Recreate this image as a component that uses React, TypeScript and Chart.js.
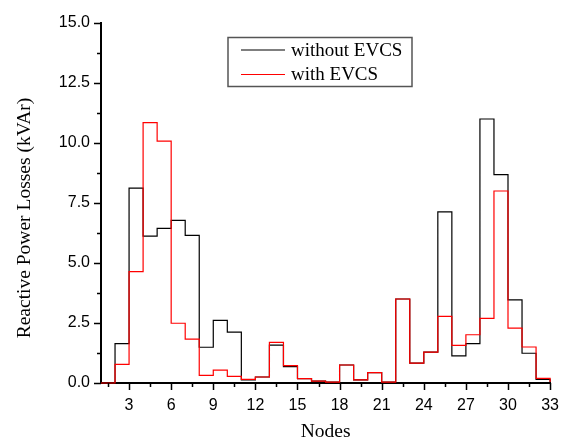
import React, { useEffect, useRef } from "react";
import { Chart, registerables } from "chart.js";

Chart.register(...registerables);

// Bus numbers of the 33-node feeder
const nodes = [
  1, 2, 3, 4, 5, 6, 7, 8, 9, 10, 11, 12, 13, 14, 15, 16, 17,
  18, 19, 20, 21, 22, 23, 24, 25, 26, 27, 28, 29, 30, 31, 32, 33,
];

// Reactive power losses per node (kVAr)
const withoutEVCS = [
  0, 1.64, 8.12, 6.12, 6.44, 6.78, 6.15, 1.49, 2.61, 2.12, 0.13, 0.25, 1.58,
  0.68, 0.18, 0.08, 0.04, 0.75, 0.13, 0.43, 0.04, 3.5, 0.83, 1.29, 7.13, 1.13,
  1.64, 11.0, 8.68, 3.46, 1.24, 0.15, 0.04,
];
const withEVCS = [
  0, 0.78, 4.64, 10.85, 10.08, 2.49, 1.83, 0.32, 0.54, 0.28, 0.15, 0.25, 1.69,
  0.72, 0.18, 0.08, 0.04, 0.75, 0.13, 0.43, 0.04, 3.5, 0.83, 1.29, 2.78, 1.57,
  2.01, 2.69, 8.0, 2.29, 1.5, 0.19, 0.04,
];

const seriesNames = ["without EVCS", "with EVCS"];

// Axis ticks
const xMajorTicks = [3, 6, 9, 12, 15, 18, 21, 24, 27, 30, 33];
const xMinorTicks = [1.5, 4.5, 7.5, 10.5, 13.5, 16.5, 19.5, 22.5, 25.5, 28.5, 31.5];
const yMajorTicks = [0, 2.5, 5, 7.5, 10, 12.5, 15];
const yMinorTicks = [1.25, 3.75, 6.25, 8.75, 11.25, 13.75];

const xTitle = "Nodes";
const yTitle = "Reactive Power Losses (kVAr)";

const SERIF = "'Liberation Serif', 'Times New Roman', serif";
const SANS = "'Liberation Sans', Arial, sans-serif";

const allTicks = (major: number[], minor: number[]) =>
  [...major, ...minor].sort((a, b) => a - b).map((value) => ({ value }));

// Draws outward major/minor tick marks, axis titles and the boxed legend
const decorations = {
  id: "decorations",
  afterDraw(chart: any) {
    const { ctx, chartArea, scales } = chart;
    const { left, right, top, bottom } = chartArea;
    ctx.save();
    ctx.strokeStyle = "#000";
    ctx.lineWidth = 1.5;
    ctx.beginPath();
    xMajorTicks.forEach((v) => {
      const px = Math.round(scales.x.getPixelForValue(v)) + 0.5;
      ctx.moveTo(px, bottom);
      ctx.lineTo(px, bottom + 7);
    });
    xMinorTicks.forEach((v) => {
      const px = Math.round(scales.x.getPixelForValue(v)) + 0.5;
      ctx.moveTo(px, bottom);
      ctx.lineTo(px, bottom + 4);
    });
    yMajorTicks.forEach((v) => {
      const py = Math.round(scales.y.getPixelForValue(v)) + 0.5;
      ctx.moveTo(left, py);
      ctx.lineTo(left - 7, py);
    });
    yMinorTicks.forEach((v) => {
      const py = Math.round(scales.y.getPixelForValue(v)) + 0.5;
      ctx.moveTo(left, py);
      ctx.lineTo(left - 4, py);
    });
    ctx.stroke();

    // Axis titles
    ctx.fillStyle = "#000";
    ctx.font = `19.5px ${SERIF}`;
    ctx.textAlign = "center";
    ctx.textBaseline = "middle";
    ctx.fillText(xTitle, (left + right) / 2, 432);
    ctx.save();
    ctx.translate(25, 218);
    ctx.rotate(-Math.PI / 2);
    ctx.fillText(yTitle, 0, 0);
    ctx.restore();

    // Legend box
    const bx = 228;
    const by = 37.5;
    const bw = 184;
    const bh = 49;
    ctx.strokeStyle = "#555";
    ctx.lineWidth = 1.5;
    ctx.strokeRect(bx, by, bw, bh);
    const colors = ["#000", "#ff0000"];
    seriesNames.forEach((name, i) => {
      const ly = 50 + i * 24.5;
      ctx.strokeStyle = colors[i];
      ctx.lineWidth = 1.2;
      ctx.beginPath();
      ctx.moveTo(241, ly);
      ctx.lineTo(285, ly);
      ctx.stroke();
      ctx.fillStyle = "#000";
      ctx.font = `19px ${SERIF}`;
      ctx.textAlign = "left";
      ctx.textBaseline = "middle";
      ctx.fillText(name, 291, ly + 1);
    });
    ctx.restore();
  },
};

export default function App() {
  const canvasRef = useRef<HTMLCanvasElement | null>(null);

  useEffect(() => {
    const canvas = canvasRef.current;
    if (!canvas) return;
    const chart = new Chart(canvas, {
      type: "line",
      data: {
        datasets: [
          {
            label: seriesNames[1],
            data: nodes.map((n, i) => ({ x: n, y: withEVCS[i] })),
            borderColor: "#ff0000",
            borderWidth: 1.2,
            stepped: true,
            pointRadius: 0,
            fill: false,
            clip: false as any,
          },
          {
            label: seriesNames[0],
            data: nodes.map((n, i) => ({ x: n, y: withoutEVCS[i] })),
            borderColor: "#000000",
            borderWidth: 1.2,
            stepped: true,
            pointRadius: 0,
            fill: false,
            clip: false as any,
          },
        ],
      },
      options: {
        animation: false,
        responsive: false,
        layout: { padding: { top: 23, right: 10, left: 0, bottom: 0 } },
        plugins: {
          legend: { display: false },
          tooltip: { enabled: false },
        },
        scales: {
          x: {
            type: "linear",
            min: 1,
            max: 33,
            afterBuildTicks: (scale: any) => {
              scale.ticks = allTicks(xMajorTicks, xMinorTicks);
            },
            afterFit: (scale: any) => {
              scale.height = 60;
            },
            ticks: {
              autoSkip: false,
              maxRotation: 0,
              padding: 6,
              color: "#000",
              font: { family: SANS, size: 16 },
              callback: (v: any) => (xMajorTicks.includes(Number(v)) ? String(v) : ""),
            },
            grid: {
              drawOnChartArea: false,
              drawTicks: true,
              tickLength: 7,
              tickColor: "rgba(0,0,0,0)",
            },
            border: { display: true, color: "#000", width: 2 },
          },
          y: {
            type: "linear",
            min: 0,
            max: 15,
            afterBuildTicks: (scale: any) => {
              scale.ticks = allTicks(yMajorTicks, yMinorTicks);
            },
            afterFit: (scale: any) => {
              scale.width = 101;
            },
            ticks: {
              autoSkip: false,
              padding: 4,
              color: "#000",
              font: { family: SANS, size: 16 },
              callback: (v: any) =>
                yMajorTicks.includes(Number(v)) ? Number(v).toFixed(1) : "",
            },
            grid: {
              drawOnChartArea: false,
              drawTicks: true,
              tickLength: 7,
              tickColor: "rgba(0,0,0,0)",
            },
            border: { display: true, color: "#000", width: 2 },
          },
        },
      },
      plugins: [decorations],
    });
    return () => chart.destroy();
  }, []);

  return (
    <div style={{ position: "absolute", left: 0, top: 0, width: 565, height: 443, background: "#fff" }}>
      <canvas ref={canvasRef} width={565} height={443} style={{ display: "block" }} />
    </div>
  );
}
